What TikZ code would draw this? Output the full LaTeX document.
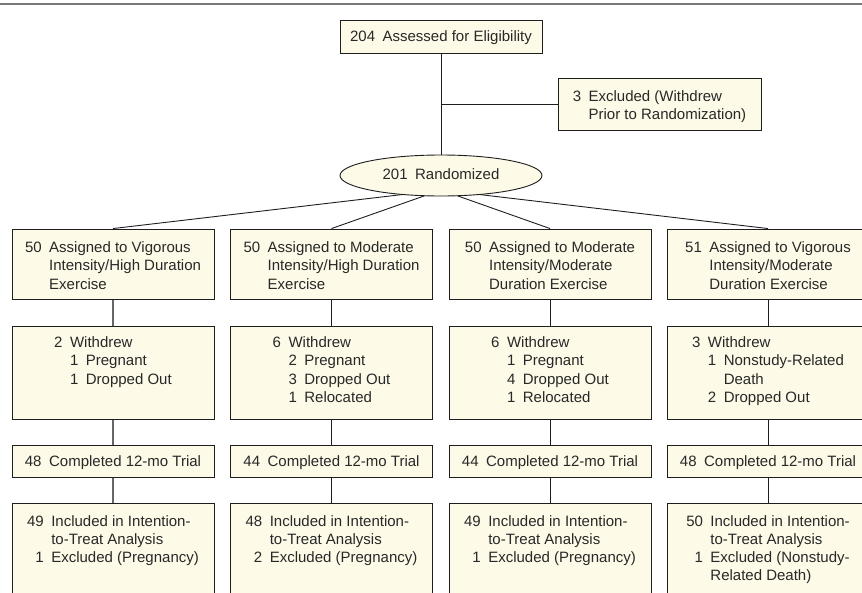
\documentclass[tikz,border=0pt]{standalone}
\usepackage{fontspec}
\setmainfont{Liberation Sans}
\usetikzlibrary{shapes.geometric,backgrounds}
\definecolor{cream}{RGB}{253,250,232}
\definecolor{edge}{RGB}{30,30,30}
\definecolor{rulec}{RGB}{120,120,120}
\definecolor{txt}{RGB}{40,40,40}
\newcommand{\gp}{\hspace{7.5pt}}
\begin{document}
\begin{tikzpicture}[x=1pt,y=-1pt,
  base/.style={draw=edge, fill=cream, line width=0.9pt, inner sep=0pt, text=txt,
    font=\fontsize{15}{18.3}\selectfont},
  box/.style={base, rectangle, minimum width=202pt},
  topbox/.style={box, text height=23.5pt, text depth=46.5pt},
  wbox/.style={box, text height=21.5pt, text depth=71.5pt},
  tbox/.style={box, text height=21.7pt, text depth=10.3pt},
  fbox/.style={box, text height=23pt, text depth=79pt},
  conn/.style={draw=edge, line width=0.9pt},
  conngray/.style={draw=rulec!85!black, line width=1.6pt}]
\clip (0,0) rectangle (862,592);
\useasboundingbox (0,0) rectangle (862,592);
\draw[rulec, line width=1.5pt] (0,4) -- (862,4);

% top
\node[box, text height=21.7pt, text depth=11.3pt] (elig) at (441,36.5)
  {\begin{tabular}[t]{@{}r@{\gp}l@{}}204 & Assessed for Eligibility\end{tabular}};
\node[box, minimum width=203pt, text height=23pt, text depth=29pt] (excl) at (659.5,104)
  {\begin{tabular}[t]{@{}r@{\gp}l@{}}3 & Excluded (Withdrew\\ & Prior to Randomization)\end{tabular}};
\node[base, ellipse, minimum width=202pt, minimum height=41pt] (rand) at (441,175.5)
  {\begin{tabular}{@{}r@{\gp}l@{}}201 & Randomized\end{tabular}};
\coordinate (hub) at (441,190);

% assigned
\node[topbox] (a1) at (113,264)
  {\begin{tabular}[t]{@{}r@{\gp}l@{}}50 & Assigned to Vigorous\\ & Intensity/High Duration\\ & Exercise\end{tabular}};
\node[topbox] (a2) at (331.5,264)
  {\begin{tabular}[t]{@{}r@{\gp}l@{}}50 & Assigned to Moderate\\ & Intensity/High Duration\\ & Exercise\end{tabular}};
\node[topbox] (a3) at (550,264)
  {\begin{tabular}[t]{@{}r@{\gp}l@{}}50 & Assigned to Moderate\\ & Intensity/Moderate\\ & Duration Exercise\end{tabular}};
\node[topbox] (a4) at (768,264)
  {\begin{tabular}[t]{@{}r@{\gp}l@{}}51 & Assigned to Vigorous\\ & Intensity/Moderate\\ & Duration Exercise\end{tabular}};

% withdrew
\node[wbox] (w1) at (113,372.5)
  {\begin{tabular}[t]{@{}r@{\gp}r@{\gp}l@{}}2 & \multicolumn{2}{@{}l@{}}{Withdrew}\\ & 1 & Pregnant\\ & 1 & Dropped Out\end{tabular}};
\node[wbox] (w2) at (331.5,372.5)
  {\begin{tabular}[t]{@{}r@{\gp}r@{\gp}l@{}}6 & \multicolumn{2}{@{}l@{}}{Withdrew}\\ & 2 & Pregnant\\ & 3 & Dropped Out\\ & 1 & Relocated\end{tabular}};
\node[wbox] (w3) at (550,372.5)
  {\begin{tabular}[t]{@{}r@{\gp}r@{\gp}l@{}}6 & \multicolumn{2}{@{}l@{}}{Withdrew}\\ & 1 & Pregnant\\ & 4 & Dropped Out\\ & 1 & Relocated\end{tabular}};
\node[wbox] (w4) at (768,372.5)
  {\begin{tabular}[t]{@{}r@{\gp}r@{\gp}l@{}}3 & \multicolumn{2}{@{}l@{}}{Withdrew}\\ & 1 & Nonstudy-Related\\ & & Death\\ & 2 & Dropped Out\end{tabular}};

% completed
\node[tbox] (t1) at (113,461)
  {\begin{tabular}[t]{@{}r@{\gp}l@{}}48 & Completed 12-mo Trial\end{tabular}};
\node[tbox] (t2) at (331.5,461)
  {\begin{tabular}[t]{@{}r@{\gp}l@{}}44 & Completed 12-mo Trial\end{tabular}};
\node[tbox] (t3) at (550,461)
  {\begin{tabular}[t]{@{}r@{\gp}l@{}}44 & Completed 12-mo Trial\end{tabular}};
\node[tbox] (t4) at (768,461)
  {\begin{tabular}[t]{@{}r@{\gp}l@{}}48 & Completed 12-mo Trial\end{tabular}};

% final
\node[fbox] (f1) at (113,554)
  {\begin{tabular}[t]{@{}r@{\gp}l@{}}49 & Included in Intention-\\ & to-Treat Analysis\\ 1 & Excluded (Pregnancy)\end{tabular}};
\node[fbox] (f2) at (331.5,554)
  {\begin{tabular}[t]{@{}r@{\gp}l@{}}48 & Included in Intention-\\ & to-Treat Analysis\\ 2 & Excluded (Pregnancy)\end{tabular}};
\node[fbox] (f3) at (550,554)
  {\begin{tabular}[t]{@{}r@{\gp}l@{}}49 & Included in Intention-\\ & to-Treat Analysis\\ 1 & Excluded (Pregnancy)\end{tabular}};
\node[fbox] (f4) at (768,554)
  {\begin{tabular}[t]{@{}r@{\gp}l@{}}50 & Included in Intention-\\ & to-Treat Analysis\\ 1 & Excluded (Nonstudy-\\ & Related Death)\end{tabular}};

\begin{scope}[on background layer]
  \draw[conn] (elig) -- (rand);
  \draw[conn] (elig.south |- excl.west) -- (excl.west);
  \draw[conn] (hub) -- (a1.north);
  \draw[conn] (hub) -- (a2.north);
  \draw[conn] (hub) -- (a3.north);
  \draw[conn] (hub) -- (a4.north);
  \draw[conngray] (a1) -- (w1);
  \draw[conngray] (w1) -- (t1);
  \draw[conngray] (t1) -- (f1);
  \foreach \i in {2,3,4}{
    \draw[conn] (a\i) -- (w\i);
    \draw[conn] (w\i) -- (t\i);
    \draw[conn] (t\i) -- (f\i);
  }
\end{scope}
\end{tikzpicture}
\end{document}
